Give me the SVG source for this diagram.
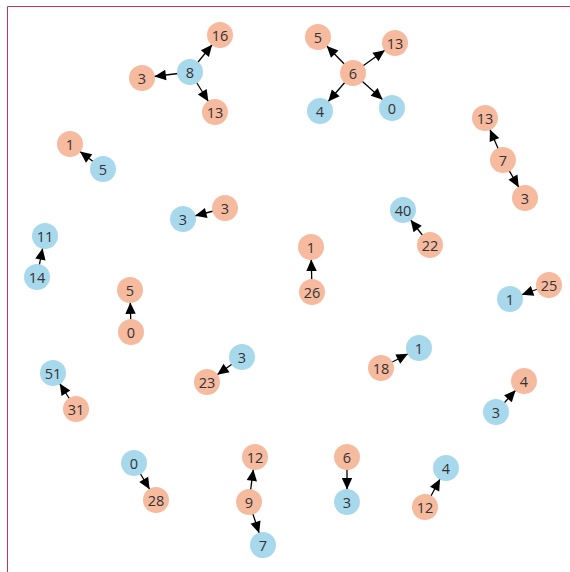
<svg xmlns="http://www.w3.org/2000/svg" width="570" height="572" viewBox="0 0 570 572">
<style>
.s{fill:#f6ba9f}
.b{fill:#a8d8ec}
text{font-family:"Open Sans","Noto Sans","DejaVu Sans",sans-serif;font-size:14.5px;fill:#333;text-anchor:middle;dominant-baseline:central}
#edges line{stroke:#000;stroke-width:1.3;marker-end:url(#arr)}
</style>
<defs>
<marker id="arr" markerUnits="userSpaceOnUse" markerWidth="40" markerHeight="14" refX="24" refY="0" orient="auto" overflow="visible">
<path d="M0,-5.2 L11.5,0 L0,5.2 z" fill="#000"/>
</marker>
</defs>
<rect width="570" height="572" fill="#fff"/>
<path d="M7.5,572 V6.5 H570" fill="none" stroke="#c8325f" stroke-width="1"/>
<g id="edges">
<line x1="190" y1="72" x2="220" y2="35"/>
<line x1="190" y1="72" x2="142" y2="78"/>
<line x1="190" y1="72" x2="215" y2="112"/>
<line x1="353" y1="73" x2="318" y2="37"/>
<line x1="353" y1="73" x2="395" y2="43"/>
<line x1="353" y1="73" x2="320" y2="111"/>
<line x1="353" y1="73" x2="392" y2="108"/>
<line x1="503" y1="160" x2="485" y2="118"/>
<line x1="503" y1="160" x2="525" y2="198"/>
<line x1="103" y1="169" x2="70" y2="144"/>
<line x1="225" y1="208" x2="183" y2="219"/>
<line x1="430" y1="245" x2="403" y2="210"/>
<line x1="37" y1="277" x2="45" y2="236"/>
<line x1="312" y1="292" x2="311" y2="247"/>
<line x1="549" y1="285" x2="510" y2="299"/>
<line x1="131" y1="332" x2="130" y2="290"/>
<line x1="242" y1="357" x2="207" y2="382"/>
<line x1="381" y1="368" x2="419" y2="348"/>
<line x1="76" y1="409" x2="53" y2="373"/>
<line x1="496" y1="412" x2="524" y2="381"/>
<line x1="134" y1="463" x2="156" y2="500"/>
<line x1="249" y1="502" x2="255" y2="457"/>
<line x1="249" y1="502" x2="263" y2="545"/>
<line x1="347" y1="457" x2="347" y2="502"/>
<line x1="425" y1="507" x2="446" y2="468"/>
</g>
<g id="n8"><circle class="b" cx="190" cy="72" r="13"/><text x="190" y="72">8</text></g>
<g id="n16"><circle class="s" cx="220" cy="35" r="13"/><text x="220" y="35">16</text></g>
<g id="n3a"><circle class="s" cx="142" cy="78" r="13"/><text x="142" y="78">3</text></g>
<g id="n13a"><circle class="s" cx="215" cy="112" r="13"/><text x="215" y="112">13</text></g>
<g id="n6a"><circle class="s" cx="353" cy="73" r="13"/><text x="353" y="73">6</text></g>
<g id="n5a"><circle class="s" cx="318" cy="37" r="13"/><text x="318" y="37">5</text></g>
<g id="n13b"><circle class="s" cx="395" cy="43" r="13"/><text x="395" y="43">13</text></g>
<g id="n4a"><circle class="b" cx="320" cy="111" r="13"/><text x="320" y="111">4</text></g>
<g id="n0a"><circle class="b" cx="392" cy="108" r="13"/><text x="392" y="108">0</text></g>
<g id="n13c"><circle class="s" cx="485" cy="118" r="13"/><text x="485" y="118">13</text></g>
<g id="n7a"><circle class="s" cx="503" cy="160" r="13"/><text x="503" y="160">7</text></g>
<g id="n3b"><circle class="s" cx="525" cy="198" r="13"/><text x="525" y="198">3</text></g>
<g id="n1a"><circle class="s" cx="70" cy="144" r="13"/><text x="70" y="144">1</text></g>
<g id="n5b"><circle class="b" cx="103" cy="169" r="13"/><text x="103" y="169">5</text></g>
<g id="n3c"><circle class="b" cx="183" cy="219" r="13"/><text x="183" y="219">3</text></g>
<g id="n3d"><circle class="s" cx="225" cy="208" r="13"/><text x="225" y="208">3</text></g>
<g id="n40"><circle class="b" cx="403" cy="210" r="13"/><text x="403" y="210">40</text></g>
<g id="n22"><circle class="s" cx="430" cy="245" r="13"/><text x="430" y="245">22</text></g>
<g id="n11"><circle class="b" cx="45" cy="236" r="13"/><text x="45" y="236">11</text></g>
<g id="n14"><circle class="b" cx="37" cy="277" r="13"/><text x="37" y="277">14</text></g>
<g id="n1b"><circle class="s" cx="311" cy="247" r="13"/><text x="311" y="247">1</text></g>
<g id="n26"><circle class="s" cx="312" cy="292" r="13"/><text x="312" y="292">26</text></g>
<g id="n25"><circle class="s" cx="549" cy="285" r="13"/><text x="549" y="285">25</text></g>
<g id="n1c"><circle class="b" cx="510" cy="299" r="13"/><text x="510" y="299">1</text></g>
<g id="n5c"><circle class="s" cx="130" cy="290" r="13"/><text x="130" y="290">5</text></g>
<g id="n0b"><circle class="s" cx="131" cy="332" r="13"/><text x="131" y="332">0</text></g>
<g id="n3e"><circle class="b" cx="242" cy="357" r="13"/><text x="242" y="357">3</text></g>
<g id="n23"><circle class="s" cx="207" cy="382" r="13"/><text x="207" y="382">23</text></g>
<g id="n1d"><circle class="b" cx="419" cy="348" r="13"/><text x="419" y="348">1</text></g>
<g id="n18"><circle class="s" cx="381" cy="368" r="13"/><text x="381" y="368">18</text></g>
<g id="n51"><circle class="b" cx="53" cy="373" r="13"/><text x="53" y="373">51</text></g>
<g id="n31"><circle class="s" cx="76" cy="409" r="13"/><text x="76" y="409">31</text></g>
<g id="n4b"><circle class="s" cx="524" cy="381" r="13"/><text x="524" y="381">4</text></g>
<g id="n3f"><circle class="b" cx="496" cy="412" r="13"/><text x="496" y="412">3</text></g>
<g id="n0c"><circle class="b" cx="134" cy="463" r="13"/><text x="134" y="463">0</text></g>
<g id="n28"><circle class="s" cx="156" cy="500" r="13"/><text x="156" y="500">28</text></g>
<g id="n12a"><circle class="s" cx="255" cy="457" r="13"/><text x="255" y="457">12</text></g>
<g id="n9"><circle class="s" cx="249" cy="502" r="13"/><text x="249" y="502">9</text></g>
<g id="n7b"><circle class="b" cx="263" cy="545" r="13"/><text x="263" y="545">7</text></g>
<g id="n6b"><circle class="s" cx="347" cy="457" r="13"/><text x="347" y="457">6</text></g>
<g id="n3g"><circle class="b" cx="347" cy="502" r="13"/><text x="347" y="502">3</text></g>
<g id="n4c"><circle class="b" cx="446" cy="468" r="13"/><text x="446" y="468">4</text></g>
<g id="n12b"><circle class="s" cx="425" cy="507" r="13"/><text x="425" y="507">12</text></g>
</svg>
